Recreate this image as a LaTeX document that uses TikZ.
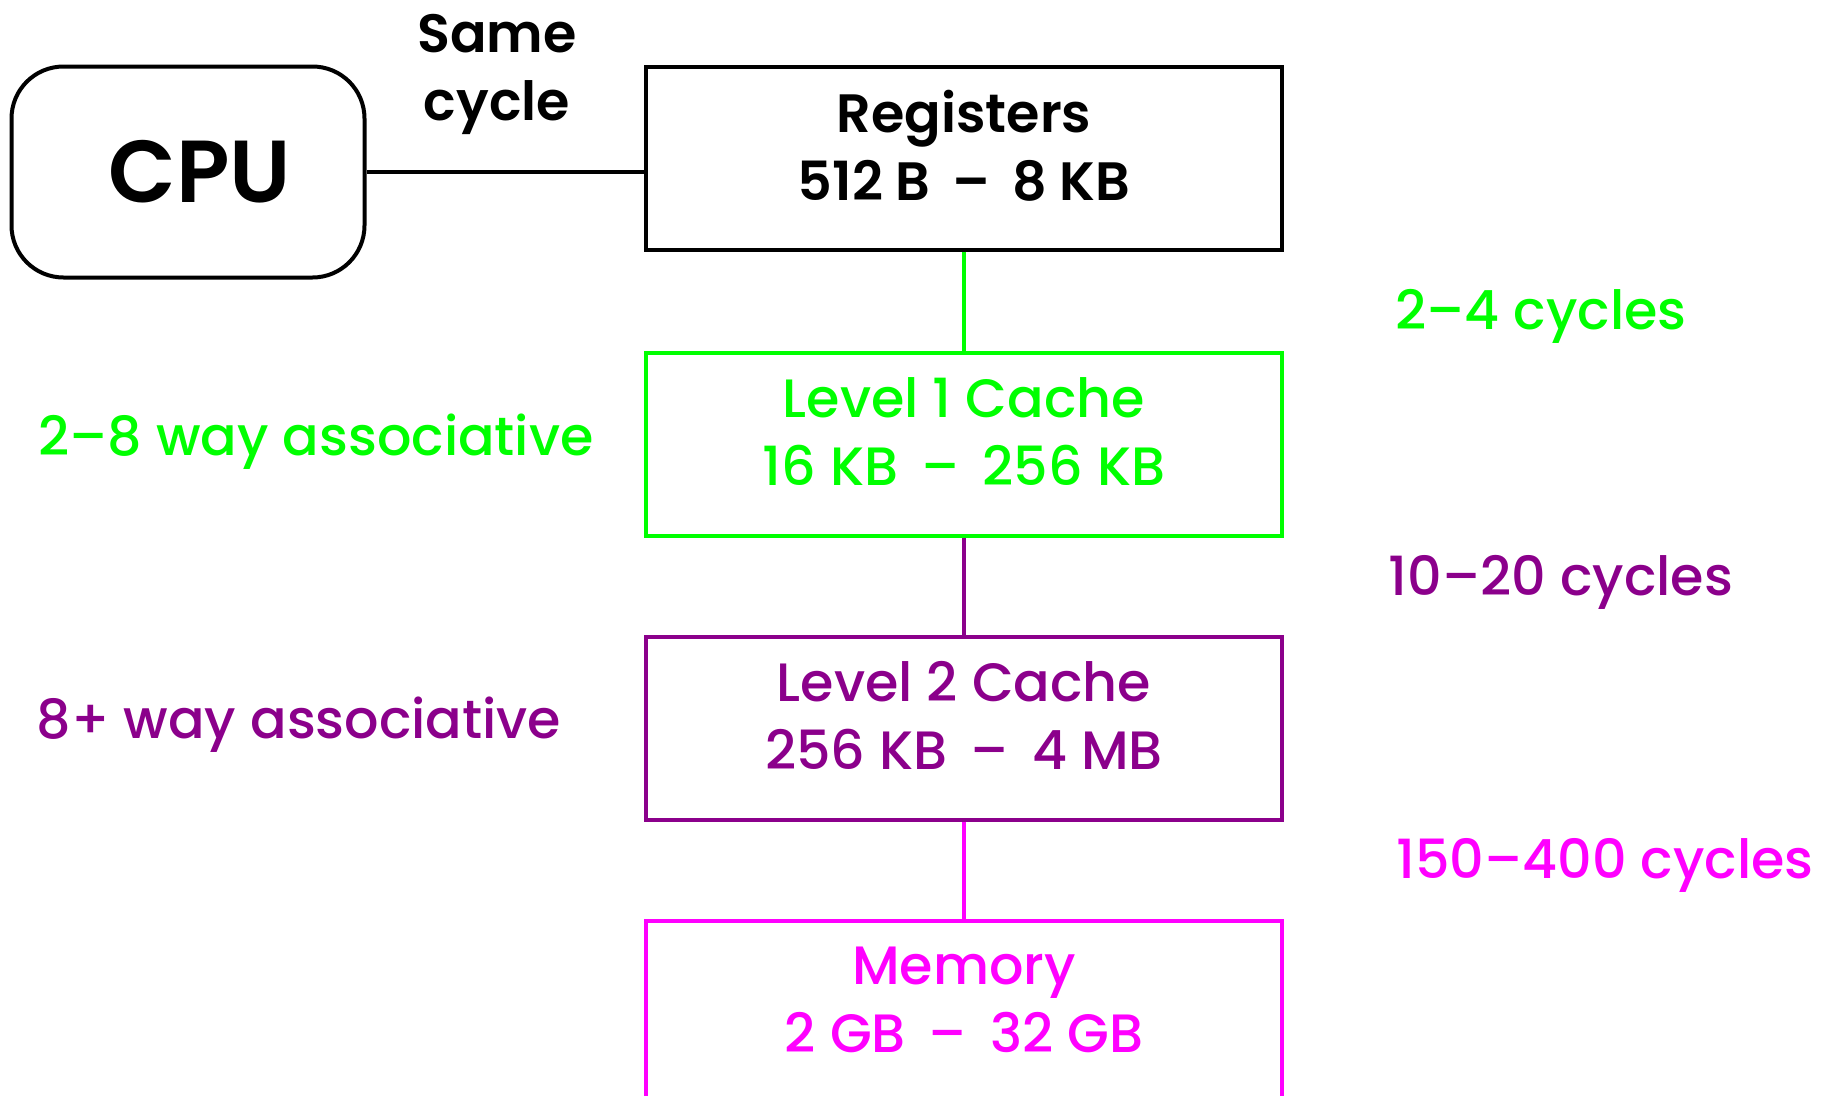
\documentclass[tikz,border=0pt]{standalone}
\usepackage{fontspec}
\setmainfont{Poppins}[UprightFont={* Medium},BoldFont={* SemiBold}]
\usetikzlibrary{positioning}
\definecolor{lvlone}{RGB}{0,255,0}
\definecolor{lvltwo}{RGB}{139,0,139}
\definecolor{lvlmem}{RGB}{255,0,255}
\tikzstyle{box}=[rectangle,draw,line width=4pt,align=center,inner sep=0pt,text depth=25pt,minimum width=636pt,minimum height=183pt,font=\fontsize{54}{68}\selectfont]
\tikzstyle{lbl}=[inner sep=0pt,align=center,font=\fontsize{54}{68}\selectfont]
\tikzstyle{wire}=[line width=4pt]
\begin{document}
\begin{tikzpicture}[x=1pt,y=1pt,node distance=99pt]
\useasboundingbox (0,0) rectangle (1833,-1095);
\node[rectangle,draw,line width=4pt,rounded corners=52pt,minimum width=353pt,minimum height=211pt,font=\fontsize{88}{100}\selectfont\bfseries] (cpu) at (188,-172) {\hspace*{24pt}CPU};
\node[box,font=\fontsize{54}{68}\selectfont\bfseries] (reg) at (964,-158) {Registers\\512 B \,--\, 8 KB};
\node[box,lvlone, below=of reg] (lone) {Level 1 Cache\\16 KB \,--\, 256 KB};
\node[box,lvltwo, below=97pt of lone] (ltwo) {Level 2 Cache\\256 KB \,--\, 4 MB};
\node[box,lvlmem, below=97pt of ltwo] (mem) {Memory\\2 GB \,--\, 32 GB};
% labels beside the boxes
\node[lbl,font=\fontsize{54}{68}\selectfont\bfseries] (same) at (497,-74) {Same\\cycle};
\node[lbl,lvlone] (lat1) at (1541,-316) {2--4 cycles};
\node[lbl,lvltwo] (lat2) at (1561,-582) {10--20 cycles};
\node[lbl,lvlmem] (lat3) at (1605,-865) {150--400 cycles};
\node[lbl,lvlone] (asc1) at (316,-442) {2--8 way associative};
\node[lbl,lvltwo] (asc2) at (299,-725) {8+ way associative};
% connectors
\draw[wire] (cpu.east) -- (cpu.east -| reg.west);
\draw[wire,lvlone] (reg) -- (lone);
\draw[wire,lvltwo] (lone) -- (ltwo);
\draw[wire,lvlmem] (ltwo) -- (mem);
\end{tikzpicture}
\end{document}
